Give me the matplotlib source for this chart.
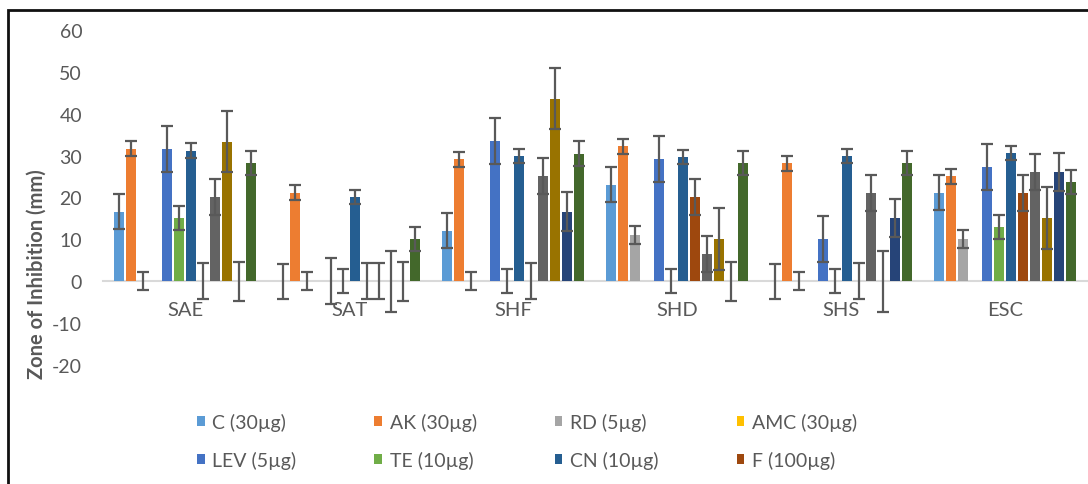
import matplotlib.pyplot as plt
import matplotlib.patches as mpatches
import numpy as np

plt.rcParams['font.family'] = ['Lato', 'DejaVu Sans']
plt.rcParams['axes.unicode_minus'] = False

groups = ["SAE", "SAT", "SHF", "SHD", "SHS", "ESC"]
series = ["C (30µg)", "AK (30µg)", "RD (5µg)", "AMC (30µg)", "LEV (5µg)", "TE (10µg)",
          "CN (10µg)", "F (100µg)", "S9", "S10", "S11", "S12"]
colors = ["#5B9BD5", "#ED7D31", "#A5A5A5", "#FFC000", "#4472C4", "#70AD47",
          "#255E91", "#9E480E", "#636363", "#997300", "#264478", "#43682B"]

# values per series, in group order SAE..ESC
C   = [16.6, 0, 12.1, 23.1, 0, 21.1]
AK  = [31.6, 21.1, 29.1, 32.2, 28.2, 25.1]
RD  = [0, 0, 0, 11.0, 0, 10.1]
AMC = [0, 0, 0, 0, 0, 0]
LEV = [31.6, 0, 33.6, 29.1, 10.1, 27.3]
TE  = [15.1, 0, 0, 0, 0, 13.0]
CN  = [31.2, 20.1, 30.0, 29.7, 30.0, 30.7]
F   = [0, 0, 0, 20.2, 0, 21.1]
S9  = [20.1, 0, 25.1, 6.5, 21.0, 26.1]
S10 = [33.3, 0, 43.6, 10.1, 0, 15.1]
S11 = [0, 0, 16.6, 0, 15.1, 26.1]
S12 = [28.2, 10.1, 30.5, 28.2, 28.2, 23.7]
values = [C, AK, RD, AMC, LEV, TE, CN, F, S9, S10, S11, S12]

# error bar size per series (same in every group)
errors = [4.2, 1.8, 2.2, 0, 5.5, 2.9, 1.7, 4.3, 4.3, 7.3, 4.6, 2.9]

fig = plt.figure(figsize=(10.88, 4.85), dpi=100)
ax = fig.add_axes([103/1088, 1 - 366/485, 984/1088, 335/485])

x = np.arange(len(groups))
pitch = 12 / 164
width = 10.5 / 164
bars = []
for i, (vals, col, err) in enumerate(zip(values, colors, errors)):
    xi = x + (i - 5.5) * pitch
    b = ax.bar(xi, vals, width, color=col, label=series[i], zorder=2)
    bars.append(b)
    if err > 0:
        ax.errorbar(xi, vals, yerr=err, fmt="none", ecolor="#595959",
                    elinewidth=1.6, capsize=4, capthick=1.6, zorder=3)

ax.set_xlim(-0.5, 5.5)
ax.set_ylim(-20, 60)
ax.set_yticks(range(-20, 61, 10))
ax.set_xticks(x)
ax.set_xticklabels(groups)
for s in ["top", "right", "left"]:
    ax.spines[s].set_visible(False)
ax.spines["bottom"].set_position(("data", 0))
ax.spines["bottom"].set_color("#D9D9D9")
ax.spines["bottom"].set_linewidth(1.5)
ax.spines["bottom"].set_zorder(1)
ax.tick_params(axis="x", length=0, pad=14, labelsize=14.5, labelcolor="#595959")
ax.tick_params(axis="y", length=0, pad=15, labelsize=14, labelcolor="#595959")

fig.text(37/1088, 1 - 274/485, "Zone of Inhibition (mm)", rotation=90,
         ha="center", va="center", fontsize=14.5, fontweight="bold", color="#595959")

# legend is filled column by column, so interleave the two rows
order = [0, 4, 1, 5, 2, 6, 3, 7]
fig.legend(handles=[bars[k] for k in order], labels=[series[k] for k in order],
           ncol=4, loc="upper left", bbox_to_anchor=(189/1088, 1 - 406/485),
           borderaxespad=0, frameon=False,
           fontsize=14, labelcolor="#595959", handlelength=0.4, handleheight=0.4,
           handletextpad=0.4, columnspacing=4.0, labelspacing=1.05)

# outer frame of the chart (cut off at right and bottom)
fig.patches.append(mpatches.Rectangle((8/1088, -0.1), 1.2, 1 - 11/485 + 0.1,
                                      transform=fig.transFigure, fill=False,
                                      edgecolor="#111111", linewidth=2))

fig.savefig("out.png", dpi=100)
